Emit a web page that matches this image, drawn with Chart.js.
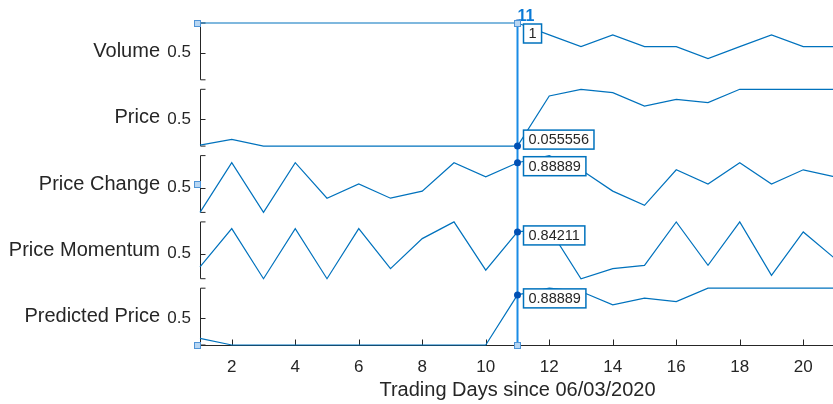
<!DOCTYPE html>
<html>
<head>
<meta charset="utf-8">
<script src="https://cdn.jsdelivr.net/npm/chart.js@4.4.1/dist/chart.umd.min.js"></script>
<style>
  html, body { margin: 0; padding: 0; background: #fff; overflow: hidden; }
  #wrap { width: 833px; height: 404px; overflow: hidden; position: relative; }
  #wrap canvas { display: block; }
</style>
</head>
<body>
<div id="wrap"><canvas id="c" width="845" height="404"></canvas></div>
<script>
// ---- data ----
const days = [1, 2, 3, 4, 5, 6, 7, 8, 9, 10, 11, 12, 13, 14, 15, 16, 17, 18, 19, 20, 21];
const xTickValues = [2, 4, 6, 8, 10, 12, 14, 16, 18, 20];
const seriesNames = ['Volume', 'Price', 'Price Change', 'Price Momentum', 'Predicted Price'];

const volume         = [1, 1, 1, 1, 1, 1, 1, 1, 1, 1, 1, 0.8, 0.6, 0.8, 0.6, 0.6, 0.4, 0.6, 0.8, 0.6, 0.6];
const price          = [0.072, 0.16667, 0.055556, 0.055556, 0.055556, 0.055556, 0.055556, 0.055556, 0.055556, 0.055556, 0.055556,
                        0.88889, 1, 0.94444, 0.72222, 0.83333, 0.77778, 1, 1, 1, 1];
const priceChange    = [0.11111, 0.88889, 0.11111, 0.88889, 0.33333, 0.55556, 0.33333, 0.44444, 0.88889, 0.66667, 0.88889,
                        1, 0.77778, 0.44444, 0.22222, 0.77778, 0.55556, 0.88889, 0.55556, 0.77778, 0.66667];
const priceMomentum  = [0.29, 0.89474, 0.10526, 0.89474, 0.10526, 0.89474, 0.26316, 0.73684, 1, 0.24, 0.84211,
                        0.89474, 0.10526, 0.26316, 0.31579, 1, 0.31579, 1, 0.15789, 0.84211, 0.42105];
const predictedPrice = [0.16667, 0.055556, 0.055556, 0.055556, 0.055556, 0.055556, 0.055556, 0.055556, 0.055556, 0.055556,
                        0.88889, 1, 0.94444, 0.72222, 0.83333, 0.77778, 1, 1, 1, 1, 1];

const yTickValue = 0.5;
const yLimits = [[0.04, 1], [0.055556, 1], [0.11111, 1], [0.10526, 1], [0.055556, 1]];
const cursorDay = 11;
const xAxisTitle = 'Trading Days since 06/03/2020';

// ---- styling ----
const FONT = '"Liberation Sans", Arial, Helvetica, sans-serif';
const AXIS = '#262626';
const LINE = '#0072BD';
const series = [volume, price, priceChange, priceMomentum, predictedPrice];
const panelIds = ['yVol', 'yPrice', 'yChange', 'yMom', 'yPred'];

// Each panel owns an equal slice of the plot height; the drawn body of a
// panel is slightly shorter, leaving a gap between neighbouring panels.
function panelRange(i, lo, hi) {
  const n = series.length;
  const slot = 1 / n;
  const gap = 0.0295;
  const body = (1 - gap * (n - 1)) / n;
  const topPad = i * (body + gap) - i * slot;
  const botPad = slot - body - topPad;
  const perUnit = body / (hi - lo);
  return { min: lo - botPad / perUnit, max: hi + topPad / perUnit };
}

function yScale(i) {
  const [lo, hi] = yLimits[i];
  const r = panelRange(i, lo, hi);
  return {
    type: 'linear',
    position: 'left',
    stack: 'panels',
    stackWeight: 1,
    weight: series.length - i,
    min: r.min,
    max: r.max,
    afterBuildTicks: s => { s.ticks = [{ value: yTickValue }]; },
    afterFit: s => { s.width = 200; },
    grid: { display: false, drawTicks: false },
    border: { display: false },
    ticks: { padding: 9, color: AXIS, font: { size: 17, family: FONT }, callback: v => String(v) }
  };
}

function formatTip(v) { return String(Number(v.toPrecision(5))); }

// Axis brackets, series names and the bottom axis with inward ticks
const panelDecor = {
  id: 'panelDecor',
  beforeDatasetsDraw(chart) {
    const { ctx, chartArea: a } = chart;
    ctx.save();
    ctx.strokeStyle = AXIS;
    ctx.lineWidth = 1;
    const x = Math.round(a.left) + 0.5;
    panelIds.forEach((id, i) => {
      const s = chart.scales[id];
      const [lo, hi] = yLimits[i];
      const yLo = s.getPixelForValue(lo), yHi = s.getPixelForValue(hi);
      const yMid = Math.round(s.getPixelForValue(yTickValue)) + 0.5;
      ctx.beginPath();
      ctx.moveTo(x + 5, yHi); ctx.lineTo(x, yHi); ctx.lineTo(x, yLo); ctx.lineTo(x + 5, yLo);
      ctx.moveTo(x, yMid); ctx.lineTo(x + 5, yMid);
      ctx.stroke();
      ctx.fillStyle = AXIS;
      ctx.font = '20px ' + FONT;
      ctx.textAlign = 'right';
      ctx.textBaseline = 'middle';
      ctx.fillText(seriesNames[i], a.left - 40, (yLo + yHi) / 2);
    });
    const xs = chart.scales.x;
    const yb = Math.round(a.bottom) + 0.5;
    ctx.beginPath();
    ctx.moveTo(a.left, yb); ctx.lineTo(a.right, yb);
    xs.ticks.forEach(t => {
      const px = Math.round(xs.getPixelForValue(t.value)) + 0.5;
      ctx.moveTo(px, yb); ctx.lineTo(px, yb - 6);
    });
    ctx.stroke();
    ctx.restore();
  }
};

// Data cursor, its value tips and the selection handles
const cursorDecor = {
  id: 'cursorDecor',
  afterDatasetsDraw(chart) {
    const { ctx, chartArea: a } = chart;
    const xs = chart.scales.x;
    const cx = xs.getPixelForValue(cursorDay);
    const idx = days.indexOf(cursorDay);
    ctx.save();
    ctx.strokeStyle = '#1a8ce6';
    ctx.lineWidth = 2;
    ctx.beginPath();
    ctx.moveTo(cx, a.top - 3); ctx.lineTo(cx, a.bottom);
    ctx.stroke();

    panelIds.forEach((id, i) => {
      const s = chart.scales[id];
      const v = series[i][idx];
      const py = s.getPixelForValue(v);
      const yLo = s.getPixelForValue(yLimits[i][0]);
      ctx.fillStyle = '#0050b4';
      ctx.beginPath(); ctx.arc(cx, py, 3.5, 0, Math.PI * 2); ctx.fill();

      const txt = formatTip(v);
      ctx.font = '14.5px ' + FONT;
      const w = ctx.measureText(txt).width + 10, h = 19;
      const bx = cx + 6;
      let by = py - 6;
      if (by < a.top + 1) by = a.top + 1;
      if (by + h > yLo + 3) by = yLo + 3 - h;
      ctx.fillStyle = '#fff';
      ctx.fillRect(bx, by, w, h);
      ctx.strokeStyle = LINE;
      ctx.lineWidth = 1.5;
      ctx.strokeRect(bx, by, w, h);
      ctx.fillStyle = AXIS;
      ctx.textAlign = 'left';
      ctx.textBaseline = 'middle';
      ctx.fillText(txt, bx + 5, by + h / 2 + 0.5);
    });

    ctx.fillStyle = '#0a7ad6';
    ctx.font = 'bold 16px ' + FONT;
    ctx.textAlign = 'left';
    ctx.textBaseline = 'alphabetic';
    ctx.fillText(String(cursorDay), cx, a.top - 2);

    const xl = a.left - 3, xr = a.right + 2, xm = (xl + xr) / 2;
    const yt = a.top, yb = a.bottom, ym = (yt + yb) / 2;
    [[xl, yt], [xm, yt], [xr, yt], [xl, ym], [xr, ym], [xl, yb], [xm, yb], [xr, yb]].forEach(([hx, hy]) => {
      ctx.fillStyle = '#b8d6f2';
      ctx.strokeStyle = '#4f94d6';
      ctx.lineWidth = 1;
      ctx.fillRect(Math.round(hx) - 3, Math.round(hy) - 3, 7, 7);
      ctx.strokeRect(Math.round(hx) - 3 + 0.5, Math.round(hy) - 3 + 0.5, 6, 6);
    });
    ctx.restore();
  }
};

const scales = {
  x: {
    type: 'linear',
    position: 'bottom',
    min: days[0],
    max: days[days.length - 1],
    afterBuildTicks: s => { s.ticks = xTickValues.map(v => ({ value: v })); },
    afterFit: s => { s.height = 59; },
    grid: { display: false, drawTicks: false },
    border: { display: false },
    ticks: { padding: 12, color: AXIS, font: { size: 17, family: FONT }, maxRotation: 0, autoSkip: false },
    title: { display: true, text: xAxisTitle, color: AXIS, font: { size: 20, family: FONT }, padding: { top: 0, bottom: 2 } }
  }
};
panelIds.forEach((id, i) => { scales[id] = yScale(i); });

new Chart(document.getElementById('c'), {
  type: 'line',
  data: {
    datasets: series.map((vals, i) => ({
      label: seriesNames[i],
      yAxisID: panelIds[i],
      data: days.map((d, k) => ({ x: d, y: vals[k] })),
      borderColor: LINE,
      borderWidth: 1.2,
      pointRadius: 0,
      fill: false,
      tension: 0,
      clip: 5
    }))
  },
  options: {
    responsive: false,
    animation: false,
    devicePixelRatio: 1,
    layout: { padding: { top: 23, right: 10, left: 0, bottom: 0 } },
    plugins: { legend: { display: false }, tooltip: { enabled: false } },
    scales
  },
  plugins: [panelDecor, cursorDecor]
});
</script>
</body>
</html>
